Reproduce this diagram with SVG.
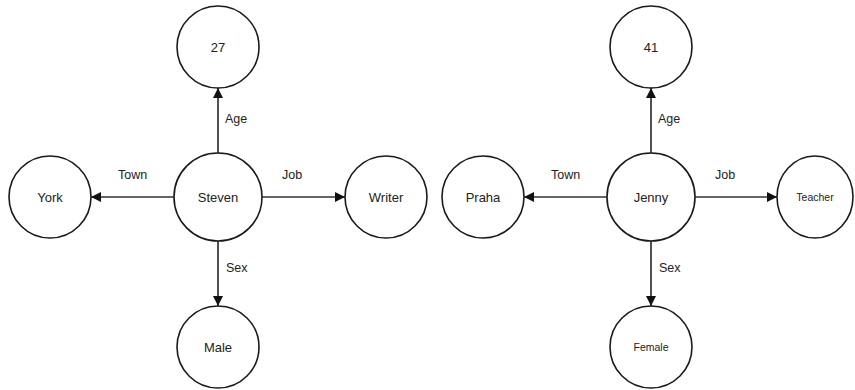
<svg xmlns="http://www.w3.org/2000/svg" width="855" height="390" viewBox="0 0 855 390">
  <style>
    .node { fill: #ffffff; stroke: #1a1a1a; stroke-width: 1.6; }
    .label { font-family: "Liberation Sans", Arial, sans-serif; font-size: 13px; fill: #222; text-anchor: middle; dominant-baseline: central; }
    .small { font-size: 10.5px; }
    .edge { stroke: #333; stroke-width: 1.7; fill: none; marker-end: url(#arrow); }
    .elabel { font-family: "Liberation Sans", Arial, sans-serif; font-size: 12.5px; fill: #222; }
  </style>
  <defs>
    <marker id="arrow" viewBox="0 0 10 10" refX="10" refY="5" markerWidth="6" markerHeight="6" orient="auto" markerUnits="strokeWidth">
      <path d="M0,0 L10,5 L0,10 z" fill="#111"/>
    </marker>
  </defs>
  <rect width="855" height="390" fill="#ffffff"/>

  <!-- connectors -->
  <g id="connectors">
    <line class="edge" x1="218" y1="153" x2="218" y2="88"/>
    <line class="edge" x1="174" y1="197" x2="91" y2="197"/>
    <line class="edge" x1="262" y1="197" x2="345" y2="197"/>
    <line class="edge" x1="218" y1="241" x2="218" y2="306"/>
    <text class="elabel" x="225" y="123">Age</text>
    <text class="elabel" x="118" y="179">Town</text>
    <text class="elabel" x="282" y="179">Job</text>
    <text class="elabel" x="226" y="272">Sex</text>

    <line class="edge" x1="651" y1="153" x2="651" y2="88"/>
    <line class="edge" x1="607" y1="197" x2="524" y2="197"/>
    <line class="edge" x1="695" y1="197" x2="777" y2="197"/>
    <line class="edge" x1="651" y1="241" x2="651" y2="306"/>
    <text class="elabel" x="658" y="123">Age</text>
    <text class="elabel" x="551" y="179">Town</text>
    <text class="elabel" x="715" y="179">Job</text>
    <text class="elabel" x="659" y="272">Sex</text>
  </g>

  <!-- Steven -->
  <g id="steven"><circle class="node" cx="218" cy="197" r="44"/><text class="label" x="218" y="197">Steven</text></g>
  <g id="steven-age"><circle class="node" cx="218" cy="47" r="41"/><text class="label" x="218" y="47">27</text></g>
  <g id="steven-town"><circle class="node" cx="50" cy="197" r="41"/><text class="label" x="50" y="197">York</text></g>
  <g id="steven-job"><circle class="node" cx="386" cy="197" r="41"/><text class="label" x="386" y="197">Writer</text></g>
  <g id="steven-sex"><circle class="node" cx="218" cy="347" r="41"/><text class="label" x="218" y="347">Male</text></g>

  <!-- Jenny -->
  <g id="jenny"><circle class="node" cx="651" cy="197" r="44"/><text class="label" x="651" y="197">Jenny</text></g>
  <g id="jenny-age"><circle class="node" cx="651" cy="47" r="41"/><text class="label" x="651" y="47">41</text></g>
  <g id="jenny-town"><circle class="node" cx="483" cy="197" r="41"/><text class="label" x="483" y="197">Praha</text></g>
  <g id="jenny-job"><ellipse class="node" cx="815" cy="197" rx="38" ry="41"/><text class="label small" x="815" y="197">Teacher</text></g>
  <g id="jenny-sex"><circle class="node" cx="651" cy="347" r="41"/><text class="label small" x="651" y="347">Female</text></g>
</svg>
